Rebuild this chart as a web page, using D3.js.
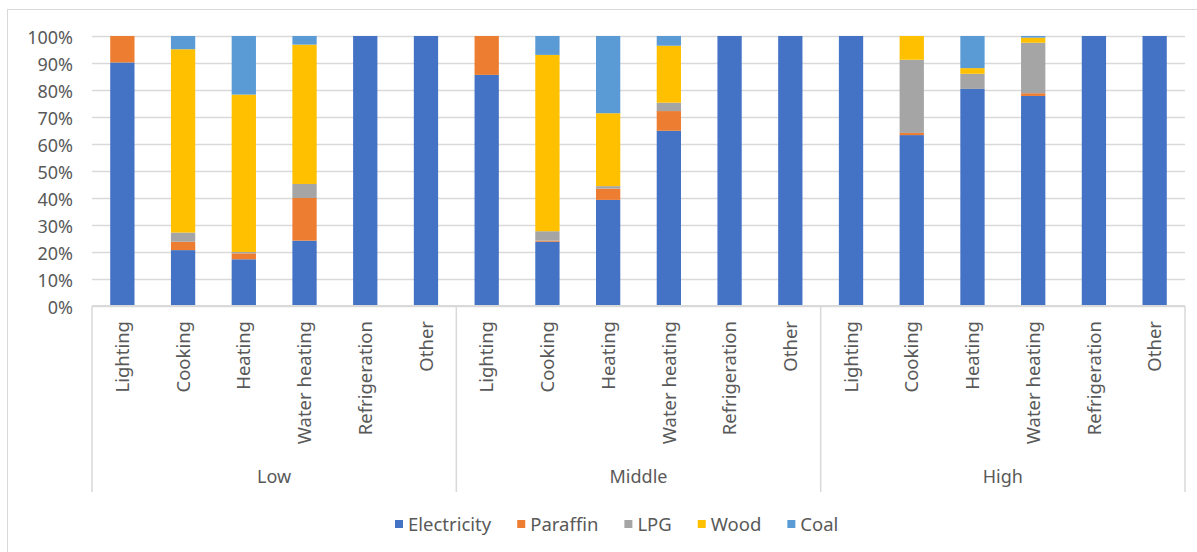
<!DOCTYPE html>
<html>
<head>
<meta charset="utf-8">
<script src="https://cdn.jsdelivr.net/npm/d3@7"></script>
<style>
  html, body { margin: 0; padding: 0; background: #ffffff; }
  svg { display: block; font-family: "Noto Sans", "Open Sans", sans-serif; }
</style>
</head>
<body>
<svg id="chart" width="1197" height="552"></svg>
<script>
// Household energy source shares by end use and income group
const groups = ["Low", "Middle", "High"];
const uses = ["Lighting", "Cooking", "Heating", "Water heating", "Refrigeration", "Other"];
const fuels = ["Electricity", "Paraffin", "LPG", "Wood", "Coal"];
const fuelColors = ["#4472C4", "#ED7D31", "#A5A5A5", "#FFC000", "#5B9BD5"];

// One value per bar, in order Low (6 uses), Middle (6 uses), High (6 uses)
const electricity = [90.2, 20.7, 17.3, 24.2, 100, 100,  85.6, 23.8, 39.3, 64.9, 100, 100,  100, 63.3, 80.4, 77.8, 100, 100];
const paraffin    = [ 9.8,  3.1,  2.2, 15.8,   0,   0,  14.4,  0.4,  4.2,  7.3,   0,   0,    0,  0.8,  0.0,  1.0,   0,   0];
const lpg         = [ 0,    3.4,  0.5,  5.2,   0,   0,   0,    3.5,  0.9,  3.1,   0,   0,    0, 27.1,  5.6, 18.7,   0,   0];
const wood        = [ 0,   67.9, 58.3, 51.6,   0,   0,   0,   65.3, 27.0, 21.1,   0,   0,    0,  8.8,  2.1,  1.9,   0,   0];
const coal        = [ 0,    4.9, 21.7,  3.2,   0,   0,   0,    7.0, 28.6,  3.6,   0,   0,    0,  0.0, 11.9,  0.6,   0,   0];

const yTicks = [0, 10, 20, 30, 40, 50, 60, 70, 80, 90, 100];

const seriesValues = [electricity, paraffin, lpg, wood, coal];

// Build rows for stacking
const rows = [];
groups.forEach((g, gi) => {
  uses.forEach((u, ui) => {
    const i = gi * uses.length + ui;
    const row = { key: g + "|" + u, group: g, use: u };
    fuels.forEach((f, fi) => { row[f] = seriesValues[fi][i]; });
    rows.push(row);
  });
});

const svg = d3.select("#chart");
const textColor = "#595959";
const lineColor = "#D9D9D9";

const plot = { left: 92, right: 1185, top: 36, bottom: 306 };

// Outer frame
svg.append("rect")
  .attr("x", 7.5).attr("y", 9.5)
  .attr("width", 1220).attr("height", 600)
  .attr("fill", "none").attr("stroke", lineColor).attr("stroke-width", 1);

const x = d3.scaleBand()
  .domain(rows.map(d => d.key))
  .range([plot.left, plot.right])
  .paddingInner(0.6)
  .paddingOuter(0.3);

const y = d3.scaleLinear().domain([0, 100]).range([plot.bottom, plot.top]);

// Gridlines and percentage labels
const yAxis = d3.axisLeft(y)
  .tickValues(yTicks)
  .tickFormat(d => d + "%")
  .tickSize(-(plot.right - plot.left))
  .tickPadding(19);

const yg = svg.append("g")
  .attr("transform", `translate(${plot.left},0)`)
  .call(yAxis);
yg.select(".domain").remove();
yg.selectAll(".tick line").attr("stroke", lineColor).attr("stroke-width", 1.3);
yg.selectAll(".tick text")
  .attr("fill", textColor)
  .attr("font-size", 18)
  .attr("font-family", "Noto Sans")
  .attr("dy", "0.42em");

// Stacked bars
const stack = d3.stack().keys(fuels);
const stacked = stack(rows);

svg.append("g")
  .selectAll("g")
  .data(stacked)
  .join("g")
  .attr("fill", (d, i) => fuelColors[i])
  .selectAll("rect")
  .data(d => d.filter(s => s[1] - s[0] > 0))
  .join("rect")
  .attr("x", d => x(d.data.key))
  .attr("width", x.bandwidth())
  .attr("y", d => y(d[1]))
  .attr("height", d => y(d[0]) - y(d[1]));

// Category axis line and group dividers
const axisG = svg.append("g");
axisG.append("line")
  .attr("x1", plot.left).attr("x2", plot.right)
  .attr("y1", plot.bottom).attr("y2", plot.bottom)
  .attr("stroke", lineColor).attr("stroke-width", 2);

const step = x.step();
const groupEdges = [0, 1, 2, 3].map(k => plot.left + k * uses.length * step);
axisG.selectAll("line.div")
  .data(groupEdges)
  .join("line")
  .attr("class", "div")
  .attr("x1", d => d).attr("x2", d => d)
  .attr("y1", plot.bottom).attr("y2", 492)
  .attr("stroke", lineColor).attr("stroke-width", 1.5);

// Rotated end-use labels
svg.append("g")
  .selectAll("text")
  .data(rows)
  .join("text")
  .attr("transform", d => `translate(${x(d.key) + x.bandwidth() / 2},321) rotate(-90)`)
  .attr("text-anchor", "end")
  .attr("dy", "0.36em")
  .attr("fill", textColor)
  .attr("font-size", 18.5)
  .text(d => d.use);

// Income group labels
svg.append("g")
  .selectAll("text")
  .data(groups)
  .join("text")
  .attr("x", (d, i) => (groupEdges[i] + groupEdges[i + 1]) / 2)
  .attr("y", 483)
  .attr("text-anchor", "middle")
  .attr("fill", textColor)
  .attr("font-size", 18)
  .text(d => d);

// Legend
const legend = svg.append("g");
let lx = 395;
fuels.forEach((f, i) => {
  const item = legend.append("g").attr("transform", `translate(${lx},0)`);
  item.append("rect")
    .attr("x", 0).attr("y", 520)
    .attr("width", 8).attr("height", 8)
    .attr("fill", fuelColors[i]);
  const t = item.append("text")
    .attr("x", 13).attr("y", 530.5)
    .attr("fill", textColor)
    .attr("font-size", 18.5)
    .text(f);
  lx += 13 + t.node().getComputedTextLength() + 26;
});
</script>
</body>
</html>
